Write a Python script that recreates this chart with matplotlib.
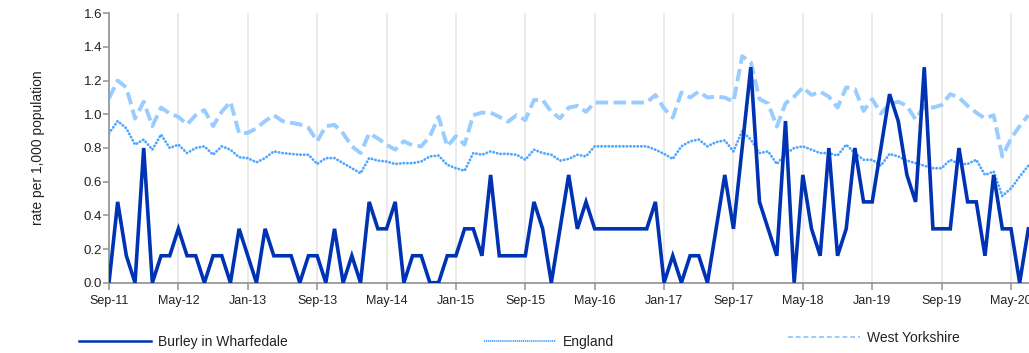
import numpy as np
import pandas as pd
import matplotlib
matplotlib.use('Agg')
import matplotlib.pyplot as plt
from matplotlib.lines import Line2D

plt.rcParams['font.family'] = ['Liberation Sans', 'DejaVu Sans']

# --- dane (miesięcznie od Sep-11) ---
months = pd.date_range('2011-09-01', periods=107, freq='MS')

burley = [0, 0.48, 0.16, 0, 0.8, 0, 0.16, 0.16, 0.32, 0.16,
          0.16, 0, 0.16, 0.16, 0, 0.32, 0.16, 0, 0.32, 0.16,
          0.16, 0.16, 0, 0.16, 0.16, 0, 0.32, 0, 0.16, 0,
          0.48, 0.32, 0.32, 0.48, 0, 0.16, 0.16, 0, 0, 0.16,
          0.16, 0.32, 0.32, 0.16, 0.64, 0.16, 0.16, 0.16, 0.16, 0.48,
          0.32, 0, 0.32, 0.64, 0.32, 0.48, 0.32, 0.32, 0.32, 0.32,
          0.32, 0.32, 0.32, 0.48, 0, 0.16, 0, 0.16, 0.16, 0,
          0.32, 0.64, 0.32, 0.8, 1.28, 0.48, 0.32, 0.16, 0.96, 0,
          0.64, 0.32, 0.16, 0.8, 0.16, 0.32, 0.8, 0.48, 0.48, 0.8,
          1.12, 0.96, 0.64, 0.48, 1.28, 0.32, 0.32, 0.32, 0.8, 0.48,
          0.48, 0.16, 0.64, 0.32, 0.32, 0, 0.32]

england = [0.887, 0.96, 0.917, 0.82, 0.85, 0.79, 0.88, 0.80, 0.82, 0.77,
           0.80, 0.81, 0.76, 0.81, 0.79, 0.745, 0.74, 0.715, 0.74, 0.78,
           0.77, 0.765, 0.76, 0.76, 0.705, 0.74, 0.74, 0.71, 0.68, 0.65,
           0.74, 0.725, 0.72, 0.705, 0.71, 0.71, 0.72, 0.75, 0.755, 0.70,
           0.68, 0.665, 0.77, 0.76, 0.78, 0.765, 0.765, 0.76, 0.73, 0.79,
           0.77, 0.76, 0.725, 0.735, 0.76, 0.75, 0.81, 0.81, 0.81, 0.81,
           0.81, 0.81, 0.81, 0.79, 0.765, 0.735, 0.81, 0.84, 0.85, 0.81,
           0.835, 0.845, 0.78, 0.90, 0.85, 0.77, 0.78, 0.705, 0.765, 0.80,
           0.81, 0.79, 0.77, 0.77, 0.755, 0.82, 0.77, 0.73, 0.73, 0.695,
           0.765, 0.75, 0.725, 0.71, 0.695, 0.68, 0.68, 0.73, 0.705, 0.705,
           0.73, 0.64, 0.66, 0.515, 0.56, 0.63, 0.695]

west_yorkshire = [1.095, 1.20, 1.16, 0.975, 1.075, 0.93, 1.04, 1.005, 0.985, 0.94,
                  0.995, 1.025, 0.93, 1.015, 1.075, 0.887, 0.89, 0.917, 0.96, 0.995,
                  0.96, 0.95, 0.94, 0.92, 0.84, 0.93, 0.937, 0.887, 0.81, 0.77,
                  0.887, 0.857, 0.82, 0.79, 0.84, 0.815, 0.81, 0.87, 0.985, 0.81,
                  0.87, 0.82, 0.995, 1.01, 1.01, 0.985, 0.956, 0.995, 0.966, 1.085,
                  1.085, 1.015, 0.976, 1.04, 1.05, 1.015, 1.07, 1.07, 1.07, 1.07,
                  1.07, 1.07, 1.07, 1.115, 1.035, 0.98, 1.13, 1.10, 1.135, 1.10,
                  1.105, 1.10, 1.075, 1.345, 1.31, 1.09, 1.065, 0.927, 1.065, 1.105,
                  1.16, 1.115, 1.135, 1.105, 1.04, 1.16, 1.15, 1.02, 1.09, 1.005,
                  1.06, 1.075, 1.05, 0.97, 1.05, 1.04, 1.055, 1.12, 1.10, 1.05,
                  1.01, 0.976, 0.995, 0.75, 0.857, 0.93, 0.995]

labels = ['Burley in Wharfedale', 'England', 'West Yorkshire']
colors = ['#0033b3', '#4da6ff', '#99ccff']
y_ticks = [0.0, 0.2, 0.4, 0.6, 0.8, 1.0, 1.2, 1.4, 1.6]


def main():
    x = np.arange(len(months))
    tick_pos = x[::8]
    tick_lab = [m.strftime('%b-%y') for m in months[::8]]

    fig = plt.figure(figsize=(10.29, 3.53), dpi=100)
    W, H = 1029, 353
    ax = fig.add_axes([109 / W, (H - 282.7) / H, (W - 109) / W, (282.7 - 13.3) / H])

    # siatka pionowa
    for t in tick_pos:
        ax.axvline(t, color='#e6e6e6', lw=1.2, zorder=0)

    ax.plot(x, west_yorkshire, color=colors[2], lw=2.8, dashes=(3.2, 1.4), zorder=2)
    ax.plot(x, england, color=colors[1], lw=2.0, dashes=(0.1, 1.2),
            dash_capstyle='round', zorder=3)
    ax.plot(x, burley, color=colors[0], lw=2.6, solid_joinstyle='miter', zorder=4)

    ax.set_xlim(0, (W - 109) / 8.673)
    ax.set_ylim(0, 1.6)
    ax.set_xticks(tick_pos)
    ax.set_xticklabels(tick_lab)
    ax.set_yticks(y_ticks)
    ax.set_yticklabels([f'{v:.1f}' for v in y_ticks])

    for s in ['top', 'right']:
        ax.spines[s].set_visible(False)
    for s in ['left', 'bottom']:
        ax.spines[s].set_color('#999999')
        ax.spines[s].set_linewidth(1.3)
    ax.tick_params(axis='x', colors='#999999', length=5, width=1.2, labelsize=9,
                   labelcolor='#222222', pad=4)
    ax.tick_params(axis='y', colors='#999999', length=4, width=1.2, labelsize=9.5,
                   labelcolor='#222222', pad=1)

    fig.text(38 / W, 1 - 148 / H, 'rate per 1,000 population', rotation=90,
             ha='center', va='center', fontsize=10, color='#222222')

    # legenda (trzy osobne elementy)
    handles = [Line2D([], [], color=colors[0], lw=1.8),
               Line2D([], [], color=colors[1], lw=1.4, dashes=(0.6, 0.4)),
               Line2D([], [], color=colors[2], lw=1.4, dashes=(2.5, 1.5))]
    anchors = [(79 / W, 1 - 342 / H), (484 / W, 1 - 342 / H), (788 / W, 1 - 338 / H)]
    for h, lab, anc in zip(handles, labels, anchors):
        leg = fig.legend(handles=[h], labels=[lab], loc='center left',
                         bbox_to_anchor=anc, frameon=False, fontsize=10,
                         handlelength=5.2, handletextpad=0.5, borderpad=0,
                         borderaxespad=0)
        leg.get_texts()[0].set_color('#222222')

    fig.savefig('out.png', dpi=100)


if __name__ == '__main__':
    main()
